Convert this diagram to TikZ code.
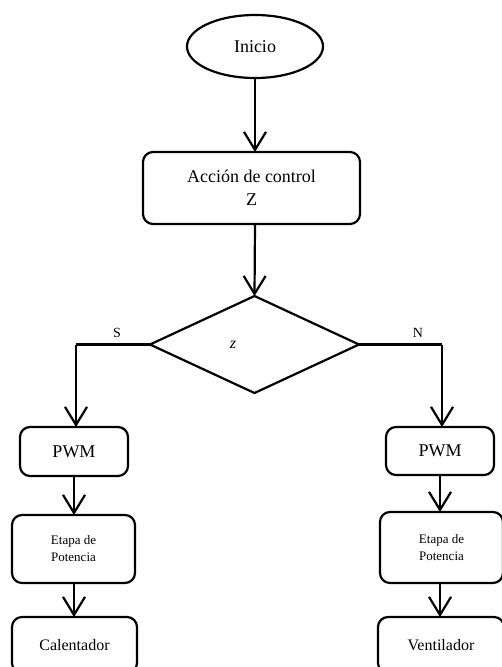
\documentclass[tikz,border=0pt]{standalone}
\usepackage{fontspec}
\setmainfont{Liberation Serif}
\usetikzlibrary{shapes.geometric,arrows.meta}
\begin{document}
\begin{tikzpicture}[x=1pt,y=-1pt,
  every node/.style={inner sep=0pt, outer sep=0pt},
  conn/.style={line width=2.2pt, -{Straight Barb[length=18pt,width=22pt,line width=2.2pt]}},
  plain/.style={line width=2.2pt},
  rbox/.style={draw, line width=2.2pt, rounded corners=10pt, align=center},
  lbl/.style={font=\fontsize{14}{16}\selectfont}]
\useasboundingbox (0,0) rectangle (502,667);
\clip (0,0) rectangle (502,667);
\node[draw, ellipse, line width=2.2pt, minimum width=136pt, minimum height=63pt, font=\fontsize{18}{20}\selectfont] (ini) at (255,46.5) {Inicio};
\node[rbox, minimum width=217pt, minimum height=72pt, font=\fontsize{18}{23}\selectfont] (acc) at (251.5,188) {Acción de control\\Z};
\node[draw, diamond, line width=2.2pt, minimum width=209pt, minimum height=97pt] (dec) at (254.5,344.5) {};
\node[font=\fontsize{16}{18}\selectfont\itshape] (z) at (233,345) {z};
\node[rbox, minimum width=108pt, minimum height=49pt, font=\fontsize{18}{20}\selectfont] (pwmL) at (74,451.5) {PWM};
\node[rbox, minimum width=123pt, minimum height=68pt, font=\fontsize{13}{17}\selectfont] (etL) at (73.5,549) {Etapa de\\Potencia};
\node[rbox, minimum width=125pt, minimum height=56pt] (calL) at (74.5,645) {};
\node[font=\fontsize{16}{18}\selectfont] (calT) at (74.5,645) {Calentador};
\node[rbox, minimum width=108pt, minimum height=48pt, font=\fontsize{18}{20}\selectfont] (pwmR) at (440,451) {PWM};
\node[rbox, minimum width=123pt, minimum height=71pt, font=\fontsize{13}{17}\selectfont] (etR) at (441.5,547.5) {Etapa de\\Potencia};
\node[rbox, minimum width=126pt, minimum height=56pt] (venR) at (441,645) {};
\node[font=\fontsize{16}{18}\selectfont] (venT) at (441,645) {Ventilador};
\coordinate (cL) at (76,344.5);
\coordinate (cR) at (442,344.5);
\node[lbl] (S) at (117,333) {S};
\node[lbl] (N) at (418,333) {N};
\draw[conn] (ini.south) -- (ini.south |- acc.north);
\draw[conn] (ini.south |- acc.south) -- (dec.north);
\draw[plain] (dec.west) -- (cL);
\draw[conn] (cL) -- (cL |- pwmL.north);
\draw[plain] (dec.east) -- (cR);
\draw[conn] (cR) -- (cR |- pwmR.north);
\draw[conn] (pwmL.south) -- (pwmL.south |- etL.north);
\draw[conn] (pwmL.south |- etL.south) -- (pwmL.south |- calL.north);
\draw[conn] (pwmR.south) -- (pwmR.south |- etR.north);
\draw[conn] (pwmR.south |- etR.south) -- (pwmR.south |- venR.north);
\end{tikzpicture}
\end{document}
